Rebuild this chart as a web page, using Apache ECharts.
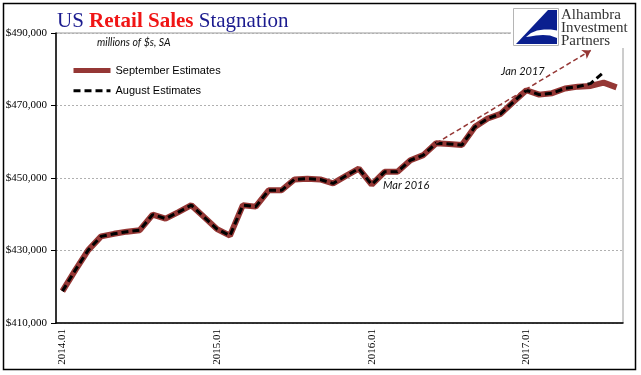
<!DOCTYPE html>
<html>
<head>
<meta charset="utf-8">
<style>
  html, body { margin: 0; padding: 0; background: #fff; }
  #chart { width: 641px; height: 375px; }
</style>
<script src="https://cdn.jsdelivr.net/npm/echarts@6/dist/echarts.min.js"></script>
</head>
<body>
<div id="chart"></div>
<script>
// monthly categories, 2014.01 - 2017.08
const months = [
  "2014.01", "2014.02", "2014.03", "2014.04", "2014.05", "2014.06",
  "2014.07", "2014.08", "2014.09", "2014.10", "2014.11", "2014.12",
  "2015.01", "2015.02", "2015.03", "2015.04", "2015.05", "2015.06",
  "2015.07", "2015.08", "2015.09", "2015.10", "2015.11", "2015.12",
  "2016.01", "2016.02", "2016.03", "2016.04", "2016.05", "2016.06",
  "2016.07", "2016.08", "2016.09", "2016.10", "2016.11", "2016.12",
  "2017.01", "2017.02", "2017.03", "2017.04", "2017.05", "2017.06",
  "2017.07", "2017.08"
];

// millions of $, SA
const septemberEst = [
  418800, 424600, 430100, 433900, 434600, 435200,
  435600, 439900, 438800, 440600, 442500, 439200,
  435900, 434100, 442500, 442100, 446600, 446600,
  449600, 449800, 449600, 448500, 450600, 452600,
  448200, 451700, 451700, 454900, 456300, 459600,
  459400, 459100, 464100, 466400, 467700, 471000,
  474200, 473000, 473400, 474700, 475200, 475400,
  476300, 475000
];

const augustEst = [
  418800, 424600, 430100, 433900, 434600, 435200,
  435600, 439900, 438800, 440600, 442500, 439200,
  435900, 434100, 442500, 442100, 446600, 446600,
  449600, 449800, 449600, 448500, 450600, 452600,
  448200, 451700, 451700, 454900, 456300, 459600,
  459400, 459100, 464100, 466400, 467700, 471000,
  474200, 473000, 473400, 474700, 475200, 476100,
  479200
];

const yMin = 410000;
const yMax = 490000;
const yStep = 20000;

// trend arrow, start and end in data terms
const trendFrom = ["2016.06", 459600];
const trendTo = ["2017.06", 485200];

const chart = echarts.init(document.getElementById("chart"));

chart.setOption({
  backgroundColor: "#fff",
  animation: false,
  title: {
    text: "{a|US }{b|Retail Sales}{a| Stagnation}",
    left: 52,
    top: 6,
    textStyle: {
      fontWeight: "normal",
      rich: {
        a: { fontFamily: "Liberation Serif", fontSize: 21, fontWeight: "normal", color: "#1b1b8f" },
        b: { fontFamily: "Liberation Serif", fontSize: 21, fontWeight: "bold", color: "#f01515" }
      }
    }
  },
  legend: {
    orient: "vertical",
    left: 71,
    top: 65,
    padding: 0,
    itemWidth: 37,
    itemHeight: 14,
    itemGap: 9,
    itemStyle: { opacity: 0 },
    textStyle: { fontFamily: "Liberation Sans", fontSize: 11, color: "#000" },
    data: [
      { name: "September Estimates", lineStyle: { width: 5, color: "#953735" } },
      { name: "August Estimates", lineStyle: { width: 3, color: "#000", type: [7, 4] } }
    ]
  },
  grid: {
    left: 56,
    right: 18,
    top: 33,
    bottom: 52,
    show: true,
    borderColor: "#9a9a9a",
    borderWidth: 1
  },
  xAxis: {
    type: "category",
    data: months,
    boundaryGap: true,
    axisLine: { lineStyle: { color: "#000", width: 1.5 } },
    axisTick: { interval: 5, length: 5, lineStyle: { color: "#000" } },
    axisLabel: {
      interval: 11,
      rotate: 90,
      margin: 6,
      fontFamily: "Liberation Serif",
      fontSize: 11,
      color: "#000"
    },
    splitLine: { show: false }
  },
  yAxis: {
    type: "value",
    min: yMin,
    max: yMax,
    interval: yStep,
    axisLine: { show: true, lineStyle: { color: "#000", width: 1.5 } },
    axisTick: { show: true, length: 5, lineStyle: { color: "#000" } },
    axisLabel: {
      margin: 9,
      fontFamily: "Liberation Serif",
      fontSize: 11,
      color: "#000",
      formatter: (v) => "$" + v.toLocaleString("en-US")
    },
    splitLine: { lineStyle: { color: "#b0b0b0", type: [2, 2], width: 1 } }
  },
  series: [
    {
      name: "September Estimates",
      type: "line",
      data: septemberEst,
      symbol: "none",
      z: 2,
      lineStyle: { color: "#953735", width: 6 },
      itemStyle: { color: "#953735" },
      markLine: {
        silent: true,
        symbol: ["none", "arrow"],
        symbolSize: 8,
        label: { show: false },
        lineStyle: { color: "#953735", type: [5, 3], width: 1.5 },
        data: [[{ coord: trendFrom }, { coord: trendTo }]]
      }
    },
    {
      name: "August Estimates",
      type: "line",
      data: augustEst,
      symbol: "none",
      z: 3,
      lineStyle: { color: "#000", width: 3, type: [7, 4] },
      itemStyle: { color: "#000" }
    }
  ],
  graphic: [
    {
      type: "text",
      left: 97,
      top: 37,
      style: { text: "millions of $s, SA", font: "italic 10.5px Lato", fill: "#111" }
    },
    {
      type: "text",
      left: 383,
      top: 180,
      style: { text: "Mar 2016", font: "italic 11px Lato", fill: "#111" }
    },
    {
      type: "text",
      left: 501,
      top: 66,
      style: { text: "Jan 2017", font: "italic 11px Lato", fill: "#111" }
    },
    // logo block
    {
      type: "rect", z: 100,
      shape: { x: 511, y: 5, width: 123, height: 43 },
      style: { fill: "#fff" }
    },
    {
      type: "rect", z: 101,
      shape: { x: 513.5, y: 8.5, width: 45, height: 37 },
      style: { fill: "#fff", stroke: "#b5b5b5", lineWidth: 1 }
    },
    {
      type: "polygon", z: 102,
      shape: { points: [[548, 10], [557, 10], [557, 44], [516, 44]] },
      style: { fill: "#0a1f8f" }
    },
    {
      type: "polygon", z: 103,
      shape: { points: [[526, 37], [531, 33], [537, 30.5], [544, 29.5], [551, 29.5], [557, 30.5], [557, 38], [550, 35.5], [543, 35], [536, 35.5], [530, 36.5]] },
      style: { fill: "#fff" }
    },
    { type: "text", z: 104, left: 561, top: 8, style: { text: "Alhambra", font: "15px Liberation Serif", fill: "#333" } },
    { type: "text", z: 104, left: 561, top: 21, style: { text: "Investment", font: "15px Liberation Serif", fill: "#333" } },
    { type: "text", z: 104, left: 561, top: 34, style: { text: "Partners", font: "15px Liberation Serif", fill: "#333" } },
    {
      type: "rect",
      z: 110,
      shape: { x: 3.5, y: 3.5, width: 632, height: 366 },
      style: { fill: "none", stroke: "#000", lineWidth: 1.5 }
    }
  ]
});
</script>
</body>
</html>
